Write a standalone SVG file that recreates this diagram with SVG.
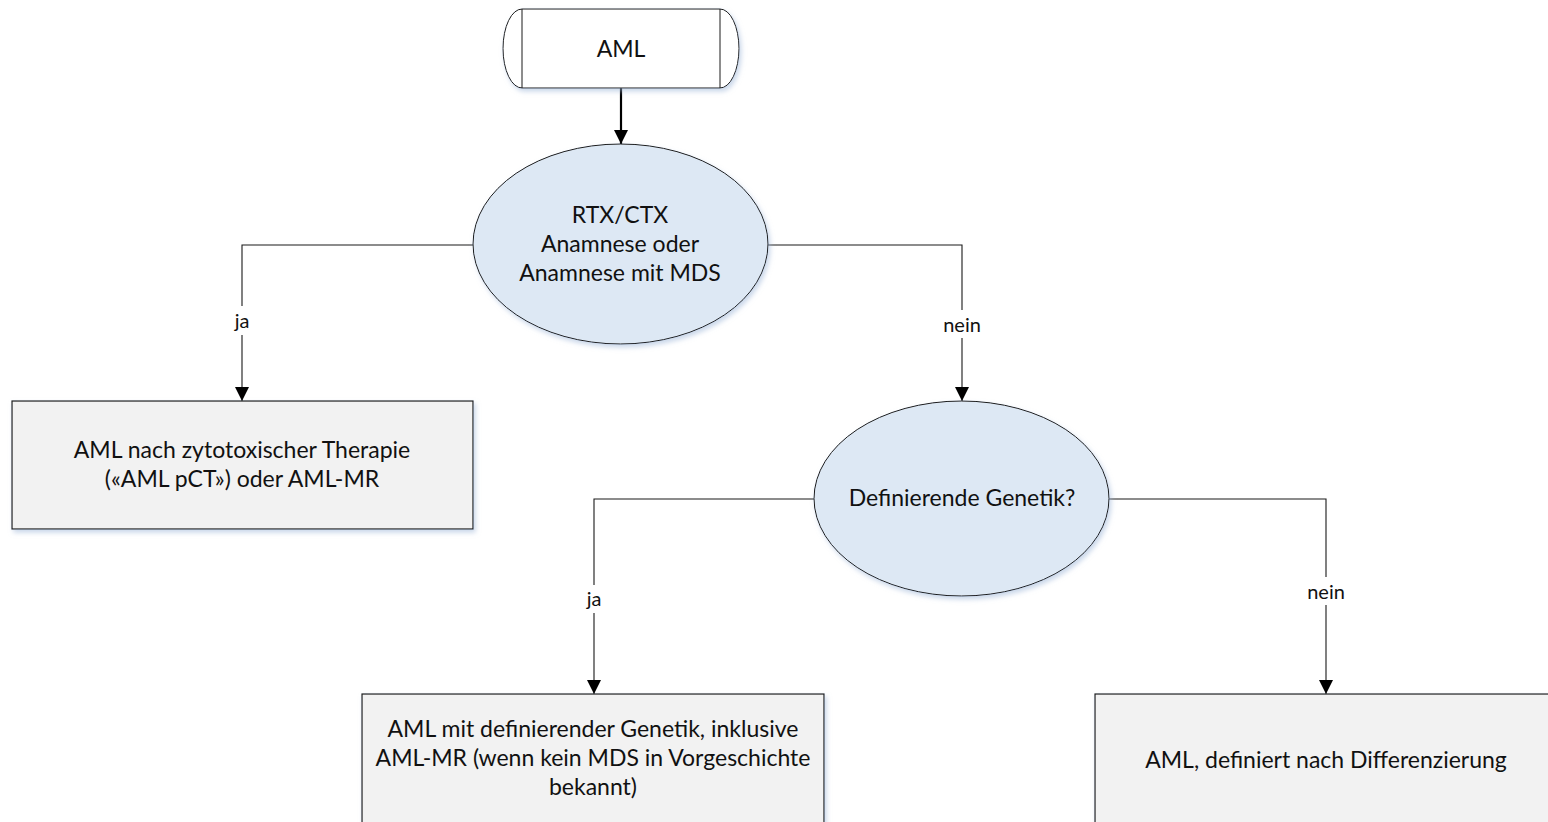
<svg xmlns="http://www.w3.org/2000/svg" width="1548" height="822" viewBox="0 0 1548 822">
  <style>
    .txt { font-family: Lato, "Liberation Sans", sans-serif; font-size: 23px; fill: #111; text-anchor: middle; }
    .lbl { font-family: Lato, "Liberation Sans", sans-serif; font-size: 20px; fill: #111; text-anchor: middle; }
    .box { fill: #f2f2f2; stroke: #1a1a1a; stroke-width: 1.2; filter: url(#shadow); }
    .dec { fill: #dde8f4; stroke: #1a1a1a; stroke-width: 1; filter: url(#shadow); }
    .term { fill: #ffffff; stroke: #1a1a1a; stroke-width: 1; filter: url(#shadow); }
    .edge { fill: none; stroke: #1a1a1a; stroke-width: 1.1; marker-end: url(#arrow); }
    .edge-main { fill: none; stroke: #000; stroke-width: 2.2; marker-end: url(#arrowBig); }
    .gap { fill: #ffffff; }
  </style>
  <defs>
    <filter id="shadow" x="-10%" y="-10%" width="125%" height="130%">
      <feDropShadow dx="2" dy="3" stdDeviation="2.5" flood-color="#9db6d8" flood-opacity="0.55"/>
    </filter>
    <marker id="arrow" markerUnits="userSpaceOnUse" markerWidth="14" markerHeight="14" viewBox="0 0 12 12" refX="12" refY="6" orient="auto">
      <path d="M0,0 L12,6 L0,12 Z" fill="#000"/>
    </marker>
    <marker id="arrowBig" markerUnits="userSpaceOnUse" markerWidth="14" markerHeight="16" viewBox="0 0 12 12" refX="12" refY="6" orient="auto">
      <path d="M0,0 L12,6 L0,12 Z" fill="#000"/>
    </marker>
  </defs>

  <rect width="1548" height="822" fill="#ffffff"/>

  <!-- connectors -->
  <g id="connectors">
    <path class="edge-main" d="M621,88 V144"/>
    <path class="edge" d="M473,245 H242 V401"/>
    <path class="edge" d="M768,245 H962 V401"/>
    <path class="edge" d="M814,499 H594 V694"/>
    <path class="edge" d="M1109,499 H1326 V694"/>
    <!-- label backgrounds cut the lines -->
    <rect class="gap" x="230" y="306" width="24" height="29"/>
    <text class="lbl" x="242" y="328">ja</text>
    <rect class="gap" x="940" y="310" width="44" height="28"/>
    <text class="lbl" x="962" y="332">nein</text>
    <rect class="gap" x="582" y="585" width="24" height="28"/>
    <text class="lbl" x="594" y="606">ja</text>
    <rect class="gap" x="1304" y="577" width="44" height="28"/>
    <text class="lbl" x="1326" y="599">nein</text>
  </g>

  <!-- start terminator -->
  <g id="start">
    <path class="term" d="M522,9 H720 A19,39.5 0 0 1 720,88 H522 A19,39.5 0 0 1 522,9 Z"/>
    <path d="M522,9 V88 M720,9 V88" stroke="#1a1a1a" stroke-width="1" fill="none"/>
    <text class="txt" x="621" y="57">AML</text>
  </g>

  <!-- decision: therapy / MDS history -->
  <g id="decision-history">
    <ellipse class="dec" cx="620.5" cy="244" rx="147.5" ry="100"/>
    <text class="txt" x="620" y="223">RTX/CTX</text>
    <text class="txt" x="620" y="252">Anamnese oder</text>
    <text class="txt" x="620" y="281">Anamnese mit MDS</text>
  </g>

  <!-- result: therapy related -->
  <g id="aml-pct">
    <rect class="box" x="12" y="401" width="461" height="128"/>
    <text class="txt" x="242" y="458">AML nach zytotoxischer Therapie</text>
    <text class="txt" x="242" y="487">(«AML pCT») oder AML-MR</text>
  </g>

  <!-- decision: defining genetics -->
  <g id="decision-genetics">
    <ellipse class="dec" cx="961.5" cy="498.5" rx="147.5" ry="97.5"/>
    <text class="txt" x="962" y="506">Definierende Genetik?</text>
  </g>

  <!-- result: defining genetics -->
  <g id="aml-genetics">
    <rect class="box" x="362" y="694" width="462" height="140"/>
    <text class="txt" x="593" y="737">AML mit definierender Genetik, inklusive</text>
    <text class="txt" x="593" y="766">AML-MR (wenn kein MDS in Vorgeschichte</text>
    <text class="txt" x="593" y="795">bekannt)</text>
  </g>

  <!-- result: defined by differentiation -->
  <g id="aml-differentiation">
    <rect class="box" x="1095" y="694" width="470" height="140"/>
    <text class="txt" x="1326" y="768">AML, definiert nach Differenzierung</text>
  </g>
</svg>
